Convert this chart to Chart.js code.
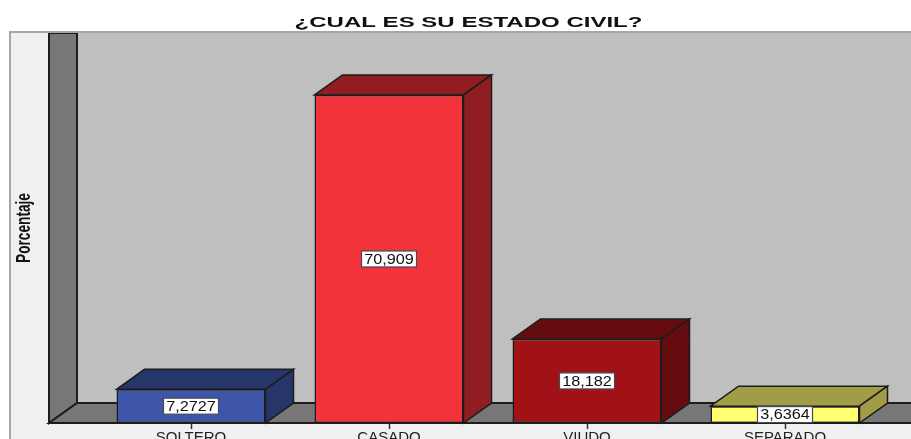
<!DOCTYPE html>
<html lang="es">

<head>
    <meta charset="UTF-8">
    <title>Estado civil</title>
    <script src="https://cdn.jsdelivr.net/npm/chart.js"></script>
    <style>
        body { margin: 0; background: white; }
        canvas { display: block; }
    </style>
</head>

<body>
    <canvas id="grafico" width="911" height="439"></canvas>

    <script>
        const categorias = ['SOLTERO', 'CASADO', 'VIUDO', 'SEPARADO'];
        const porcentajes = [7.2727, 70.909, 18.182, 3.6364];
        const coloresFrente = ['#3e56a8', '#f3333a', '#a01216', '#ffff70'];
        const coloresLado = ['#26366b', '#8f1d21', '#650c0f', '#a09c48'];

        // profundidad del efecto 3D
        const fondoX = 28;
        const fondoY = 20;
        const linea = '#1c1c1c';

        function poligono(c, puntos, relleno, grosor) {
            c.beginPath();
            puntos.forEach((p, i) => i ? c.lineTo(p[0], p[1]) : c.moveTo(p[0], p[1]));
            c.closePath();
            c.fillStyle = relleno;
            c.fill();
            c.strokeStyle = linea;
            c.lineWidth = grosor;
            c.stroke();
        }

        const paredes = {
            id: 'paredes',
            beforeDraw(chart) {
                const c = chart.ctx;
                const a = chart.chartArea;
                const izq = a.left - 43;
                const der = chart.width;
                c.save();
                // panel exterior
                c.fillStyle = '#f0f0f0';
                c.fillRect(10, a.top - 1, der - 10, chart.height - a.top + 1);
                // fondo
                c.fillStyle = '#bfbfbf';
                c.fillRect(izq + fondoX, a.top, der - izq - fondoX, a.bottom - fondoY - a.top);
                // pared izquierda y piso
                poligono(c, [[izq, a.top], [izq + fondoX, a.top], [izq + fondoX, a.bottom - fondoY], [izq, a.bottom]], '#777777', 2);
                poligono(c, [[izq, a.bottom], [izq + fondoX, a.bottom - fondoY], [der + 3, a.bottom - fondoY], [der + 3, a.bottom]], '#777777', 2);
                c.strokeStyle = '#a6a6a6';
                c.lineWidth = 2;
                c.beginPath();
                c.moveTo(10, chart.height);
                c.lineTo(10, a.top - 1);
                c.lineTo(der, a.top - 1);
                c.stroke();
                c.restore();
            },
            beforeDatasetsDraw(chart) {
                const c = chart.ctx;
                c.save();
                chart.getDatasetMeta(0).data.forEach((bar, i) => {
                    const l = bar.x - bar.width / 2;
                    const r = bar.x + bar.width / 2;
                    poligono(c, [[l, bar.y], [l + fondoX, bar.y - fondoY], [r + fondoX, bar.y - fondoY], [r, bar.y]], coloresLado[i], 1.5);
                    poligono(c, [[r, bar.y], [r + fondoX, bar.y - fondoY], [r + fondoX, bar.base - fondoY], [r, bar.base]], coloresLado[i], 1.5);
                });
                c.restore();
            },
            afterDatasetsDraw(chart) {
                const c = chart.ctx;
                c.save();
                c.font = '14px "Liberation Sans"';
                c.textAlign = 'center';
                c.textBaseline = 'middle';
                chart.getDatasetMeta(0).data.forEach((bar, i) => {
                    const texto = String(porcentajes[i]).replace('.', ',');
                    const ym = (bar.y + bar.base) / 2;
                    c.fillStyle = 'white';
                    c.strokeStyle = '#444a5a';
                    c.lineWidth = 1.2;
                    c.fillRect(bar.x - 27.5, ym - 8, 55, 16);
                    c.strokeRect(bar.x - 27.5, ym - 8, 55, 16);
                    c.fillStyle = '#111111';
                    // el texto de la imagen esta estirado a lo ancho
                    c.save();
                    c.translate(bar.x, ym + 1);
                    c.scale(1.16, 1);
                    c.fillText(texto, 0, 0);
                    c.restore();
                });
                c.restore();
            },
            afterLayout(chart) {
                const c = chart.ctx;
                const titulo = chart.titleBlock;
                const dibujaTitulo = titulo.draw;
                // titulo estirado a lo ancho y corrido a la derecha
                titulo.draw = function (area) {
                    const cx = (this.left + this.right) / 2;
                    c.save();
                    c.translate(cx + 26.5, 0);
                    c.scale(1.55, 1);
                    c.translate(-cx, 0);
                    dibujaTitulo.call(this, area);
                    c.restore();
                };
                const ejeY = chart.scales.y;
                const dibujaEje = ejeY.drawTitle;
                // rotulo del eje comprimido a lo largo
                ejeY.drawTitle = function () {
                    const cy = (this.top + this.bottom) / 2;
                    c.save();
                    c.translate(0, cy);
                    c.scale(1, 0.65);
                    c.translate(0, -cy);
                    dibujaEje.call(this);
                    c.restore();
                };
            }
        };

        new Chart(document.getElementById('grafico'), {
            type: 'bar',
            data: {
                labels: categorias,
                datasets: [{
                    data: porcentajes,
                    backgroundColor: coloresFrente,
                    borderColor: linea,
                    borderWidth: 1.5,
                    borderSkipped: false,
                    barPercentage: 0.7525,
                    categoryPercentage: 1
                }]
            },
            options: {
                responsive: false,
                animation: false,
                layout: { padding: { right: 27 } },
                plugins: {
                    legend: { display: false },
                    tooltip: { enabled: false },
                    title: {
                        display: true,
                        text: '¿CUAL ES SU ESTADO CIVIL?',
                        color: '#111111',
                        font: { family: '"Liberation Sans"', size: 15.5, weight: 'bold' },
                        padding: { top: 13, bottom: 1.4 }
                    }
                },
                scales: {
                    x: {
                        afterFit(scale) { scale.height = 16; },
                        border: { display: false },
                        grid: { drawOnChartArea: false, offset: false, tickColor: '#333333', tickLength: 6, tickWidth: 1.5 },
                        ticks: { color: '#222222', font: { family: '"Liberation Sans"', size: 15 }, padding: 0, maxRotation: 0 }
                    },
                    y: {
                        min: 0,
                        max: 84.3,
                        afterFit(scale) { scale.width = 92; },
                        border: { display: false },
                        grid: { display: false },
                        ticks: { display: false },
                        title: {
                            display: true,
                            text: 'Porcentaje',
                            color: '#111111',
                            font: { family: '"Liberation Sans"', size: 21, weight: 'bold' },
                            padding: { top: 12, bottom: 0 }
                        }
                    }
                }
            },
            plugins: [paredes]
        });
    </script>
</body>

</html>
